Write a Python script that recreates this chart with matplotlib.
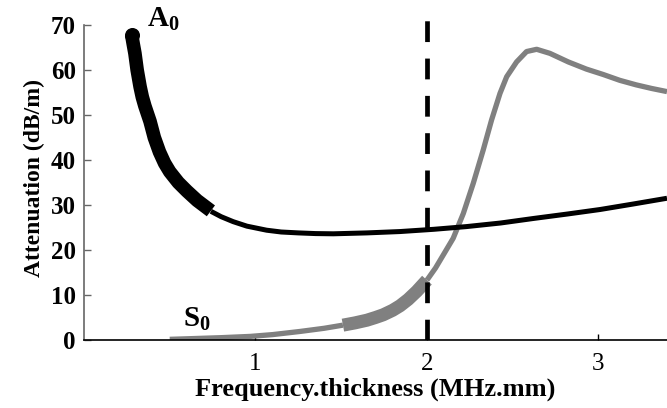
import matplotlib
matplotlib.use("Agg")
import matplotlib.pyplot as plt

SERIF = ['Liberation Serif', 'DejaVu Serif']
plt.rcParams['font.family'] = SERIF
plt.rcParams['mathtext.fontset'] = 'custom'
plt.rcParams['mathtext.rm'] = 'Liberation Serif:bold'
plt.rcParams['mathtext.it'] = 'Liberation Serif:bold'
plt.rcParams['mathtext.bf'] = 'Liberation Serif:bold'

# A0 mode: thick (excited) part and thin continuation
a0_thick_x = [0.278, 0.287, 0.297, 0.31, 0.327, 0.34, 0.355, 0.37, 0.385, 0.41, 0.44,
              0.47, 0.50, 0.55, 0.60, 0.66, 0.74]
a0_thick_y = [67.8, 65.8, 63.7, 60.0, 56.3, 54.0, 52.0, 50.3, 48.6, 45.0, 41.8,
              39.3, 37.4, 35.0, 33.1, 31.0, 28.7]
a0_thin_x = [0.74, 0.80, 0.87, 0.95, 1.065, 1.15, 1.25, 1.35, 1.454, 1.65, 1.843,
             2.04, 2.23, 2.43, 2.62, 2.82, 3.01, 3.20, 3.40]
a0_thin_y = [28.6, 27.4, 26.3, 25.3, 24.4, 24.0, 23.8, 23.65, 23.6, 23.8, 24.1,
             24.6, 25.2, 26.0, 27.0, 28.0, 29.0, 30.2, 31.5]

# S0 mode
s0_thin1_x = [0.50, 0.60, 0.68, 0.80, 0.97, 1.10, 1.26, 1.40, 1.51]
s0_thin1_y = [0.15, 0.27, 0.37, 0.52, 0.8, 1.2, 1.9, 2.6, 3.3]
s0_thick_x = [1.51, 1.58, 1.65, 1.70, 1.745, 1.80, 1.843, 1.89, 1.94, 2.0]
s0_thick_y = [3.3, 3.8, 4.4, 5.0, 5.6, 6.6, 7.6, 9.0, 10.8, 13.3]
s0_thin2_x = [2.0, 2.05, 2.1, 2.153, 2.212, 2.27, 2.328, 2.377, 2.426, 2.465, 2.523,
              2.581, 2.64, 2.717, 2.824, 2.93, 3.028, 3.125, 3.22, 3.31, 3.40]
s0_thin2_y = [13.3, 16.0, 19.2, 22.6, 28.1, 34.8, 42.2, 48.9, 54.8, 58.5, 61.8,
              64.1, 64.6, 63.7, 61.8, 60.2, 59.0, 57.7, 56.7, 55.9, 55.2]

cutoff_fd = 2.0
x_ticks = [1, 2, 3]
y_ticks = [0, 10, 20, 30, 40, 50, 60, 70]

GRAY = '#808080'

fig = plt.figure(figsize=(6.67, 4.08), dpi=100)
ax = fig.add_axes([84/667, 1-340/408, 1-84/667, (340-16)/408])
ax.set_xlim(0, 3.4)
ax.set_ylim(0, 72)

ax.plot(a0_thin_x, a0_thin_y, color='black', lw=3.6, solid_capstyle='butt',
        solid_joinstyle='round', zorder=3)
ax.plot(a0_thick_x, a0_thick_y, color='black', lw=9.8, solid_capstyle='butt',
        solid_joinstyle='round', zorder=4)
ax.plot(a0_thick_x[:1], a0_thick_y[:1], 'o', color='black', ms=9.8, zorder=4)

ax.plot(s0_thin1_x, s0_thin1_y, color=GRAY, lw=3.8, solid_capstyle='butt',
        solid_joinstyle='round', zorder=2)
ax.plot(s0_thick_x, s0_thick_y, color=GRAY, lw=9.4, solid_capstyle='butt',
        solid_joinstyle='round', zorder=2)
ax.plot(s0_thin2_x, s0_thin2_y, color=GRAY, lw=3.8, solid_capstyle='butt',
        solid_joinstyle='round', zorder=2)

ax.plot([cutoff_fd, cutoff_fd], [0, 72], color='black', lw=3.4,
        linestyle=(0, (4.4, 3.5)), zorder=5)

ax.text(0.367, 69.6, r'A$_{\mathrm{0}}$', fontsize=21, fontweight='bold',
        family=SERIF, ha='left', va='baseline')
ax.text(0.58, 2.9, r'S$_{\mathrm{0}}$', fontsize=21, fontweight='bold',
        family=SERIF, ha='left', va='baseline')

for s in ['top', 'right']:
    ax.spines[s].set_visible(False)
ax.spines['left'].set_color('#666666')
ax.spines['left'].set_bounds(0, 70)
ax.spines['left'].set_linewidth(1.2)
ax.spines['bottom'].set_linewidth(1.2)

ax.set_xticks(x_ticks)
ax.set_xticklabels([str(v) for v in x_ticks], family=SERIF)
ax.set_yticks(y_ticks)
ax.set_yticklabels([str(v) for v in y_ticks], family=SERIF, fontweight='bold')
ax.tick_params(axis='x', direction='in', length=4, width=1, pad=9, labelsize=18)
ax.tick_params(axis='y', direction='in', length=5, width=1, color='#666666', pad=6, labelsize=18)

ax.set_xlabel('Frequency.thickness (MHz.mm)', fontsize=19, fontweight='bold',
              family=SERIF, labelpad=2)
ax.set_ylabel('Attenuation (dB/m)', fontsize=17, fontweight='bold',
              family=SERIF, labelpad=4)

fig.savefig('out.png', dpi=100)
